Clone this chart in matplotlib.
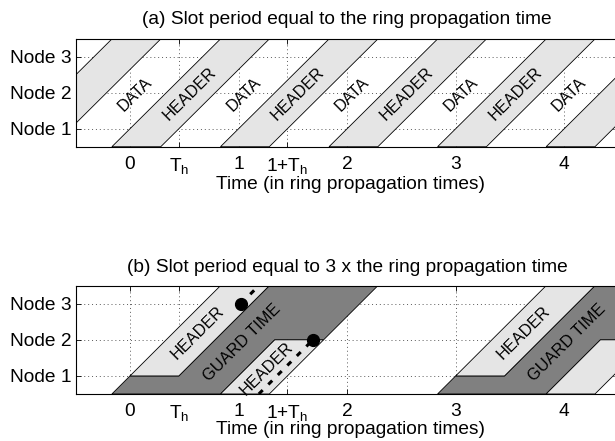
import numpy as np
import matplotlib
matplotlib.use('Agg')
import matplotlib.pyplot as plt
from matplotlib.patches import Polygon

plt.rcParams['font.family'] = ['Liberation Sans', 'DejaVu Sans']
plt.rcParams['mathtext.fontset'] = 'custom'
plt.rcParams['mathtext.rm'] = 'Liberation Sans'
plt.rcParams['mathtext.it'] = 'Liberation Sans:italic'

# ---------------- data ----------------
Th = 0.45                       # header duration (ring propagation times)
node_delay = 1.0 / 3.0          # hop time between neighbouring nodes (3-node ring)
node_levels = [1, 2, 3]
node_labels = ['Node 1', 'Node 2', 'Node 3']
xtick_vals = [0, Th, 1, 1 + Th, 2, 3, 4]
xtick_labels = ['0', r'T$_\mathrm{h}$', '1', r'1+T$_\mathrm{h}$', '2', '3', '4']
xlim = (-0.5, 4.5)
ylim = (0.5, 3.5)

# panel (a): slot period = 1
slots_a = [-1, 0, 1, 2, 3, 4]
data_label_slots_a = [0, 1, 2, 3, 4]
header_label_slots_a = [0, 1, 2, 3]
label_level_a = 1.97

# panel (b): slot period = 3
slots_b = [0, 3]
lower_header_label_slots_b = [0]
header_label_level_b = 2.2
guard_label_level_b = 1.91
lower_header_label_level_b = 1.2
lower_header_label_shift_b = -0.03
drop_node_b = 2
dot_times = [1.02, 1.685]
dot_nodes = [3, 2]

titles = ['(a) Slot period equal to the ring propagation time',
          '(b) Slot period equal to 3 x the ring propagation time']
xlabel = 'Time (in ring propagation times)'

LIGHT = '#e5e5e5'
DARK = '#808080'
FS = 13.8
FS_IN = 11.7


def x_at(y, t):
    """time at which a signal leaving node 1 at time t reaches ring position y"""
    return t + (y - node_levels[0]) * node_delay


fig = plt.figure(figsize=(6.15, 4.41), dpi=100)
ax_a = fig.add_axes([0.1231, 0.6673, 0.8826, 0.2443])
ax_b = fig.add_axes([0.1231, 0.1066, 0.8826, 0.2456])

for ax in (ax_a, ax_b):
    ax.set_xlim(*xlim)
    ax.set_ylim(*ylim)
    ax.set_axisbelow(True)
    ax.set_xticks(xtick_vals)
    ax.set_xticklabels(xtick_labels, fontsize=FS)
    ax.set_yticks(node_levels)
    ax.set_yticklabels(node_labels, fontsize=FS)
    ax.tick_params(direction='in', length=3.8, width=0.6, top=True, right=True)
    ax.tick_params(axis='x', pad=6.5)
    ax.tick_params(axis='y', pad=2.8)
    ax.grid(True, linestyle=(0, (1, 3)), color='0.35', linewidth=0.7)
    for s in ax.spines.values():
        s.set_linewidth(0.8)
    ax.set_xlabel(xlabel, fontsize=FS, va='center')

ax_a.xaxis.set_label_coords(0.507, -0.355)
ax_b.xaxis.set_label_coords(0.507, -0.33)
ax_a.set_title(titles[0], fontsize=FS, y=1.181, pad=0, va='center')
ax_b.set_title(titles[1], fontsize=FS, y=1.168, pad=0, va='center')

# direction of propagation lines in data space (rotated to screen at draw time)
ang_data = np.degrees(np.arctan2(1.0, node_delay))
txt = dict(rotation=ang_data, transform_rotates_text=True, ha='center',
           va='center', rotation_mode='anchor', fontsize=FS_IN)

ylo, yhi = ylim
edge = dict(edgecolor='black', linewidth=0.6)

# ---------------- panel (a) ----------------
for k in slots_a:
    poly = [(x_at(ylo, k), ylo), (x_at(ylo, k + Th), ylo),
            (x_at(yhi, k + Th), yhi), (x_at(yhi, k), yhi)]
    ax_a.add_patch(Polygon(poly, closed=True, facecolor=LIGHT, **edge))
for k in data_label_slots_a:
    xc = x_at(label_level_a, k - (1 - Th) / 2)
    ax_a.text(xc, label_level_a, 'DATA', **txt)
for k in header_label_slots_a:
    xc = x_at(label_level_a, k + Th / 2)
    ax_a.text(xc, label_level_a, 'HEADER', **txt)

# ---------------- panel (b) ----------------
n1 = node_levels[0]
nd = drop_node_b
for t0 in slots_b:
    guard = [(x_at(ylo, t0), ylo), (x_at(n1, t0), n1), (x_at(n1, t0 + Th), n1),
             (x_at(yhi, t0 + Th), yhi), (x_at(yhi, t0 + 1 + Th), yhi),
             (x_at(nd, t0 + 1 + Th), nd), (x_at(nd, t0 + 1), nd),
             (x_at(ylo, t0 + 1), ylo)]
    ax_b.add_patch(Polygon(guard, closed=True, facecolor=DARK, **edge))
    head1 = [(x_at(n1, t0), n1), (x_at(n1, t0 + Th), n1),
             (x_at(yhi, t0 + Th), yhi), (x_at(yhi, t0), yhi)]
    ax_b.add_patch(Polygon(head1, closed=True, facecolor=LIGHT, **edge))
    head2 = [(x_at(ylo, t0 + 1), ylo), (x_at(nd, t0 + 1), nd),
             (x_at(nd, t0 + 1 + Th), nd), (x_at(ylo, t0 + 1 + Th), ylo)]
    ax_b.add_patch(Polygon(head2, closed=True, facecolor=LIGHT, **edge))

    yh = header_label_level_b
    ax_b.text(x_at(yh, t0 + Th / 2), yh, 'HEADER', **txt)
    yg = guard_label_level_b
    ax_b.text(x_at(yg, t0 + (1 + Th) / 2), yg, 'GUARD TIME', **txt)
    if t0 in lower_header_label_slots_b:
        yl = lower_header_label_level_b
        ax_b.text(x_at(yl, t0 + 1 + Th / 2) + lower_header_label_shift_b, yl,
                  'HEADER', **txt)

# dashed trajectory between the two dots (wrapping round the ring)
x_wrap = dot_times[0] + (yhi - dot_nodes[0]) * node_delay
dash = dict(color='black', linewidth=2.2, linestyle=(0, (1.8, 2.6)), zorder=3)
ax_b.plot([dot_times[0], x_wrap], [dot_nodes[0], yhi], **dash)
ax_b.plot([x_wrap, dot_times[1]], [ylo, dot_nodes[1]], **dash)
ax_b.plot(dot_times, dot_nodes, 'o', color='black', markersize=8.5, zorder=4)

fig.savefig('out.png', dpi=100)
